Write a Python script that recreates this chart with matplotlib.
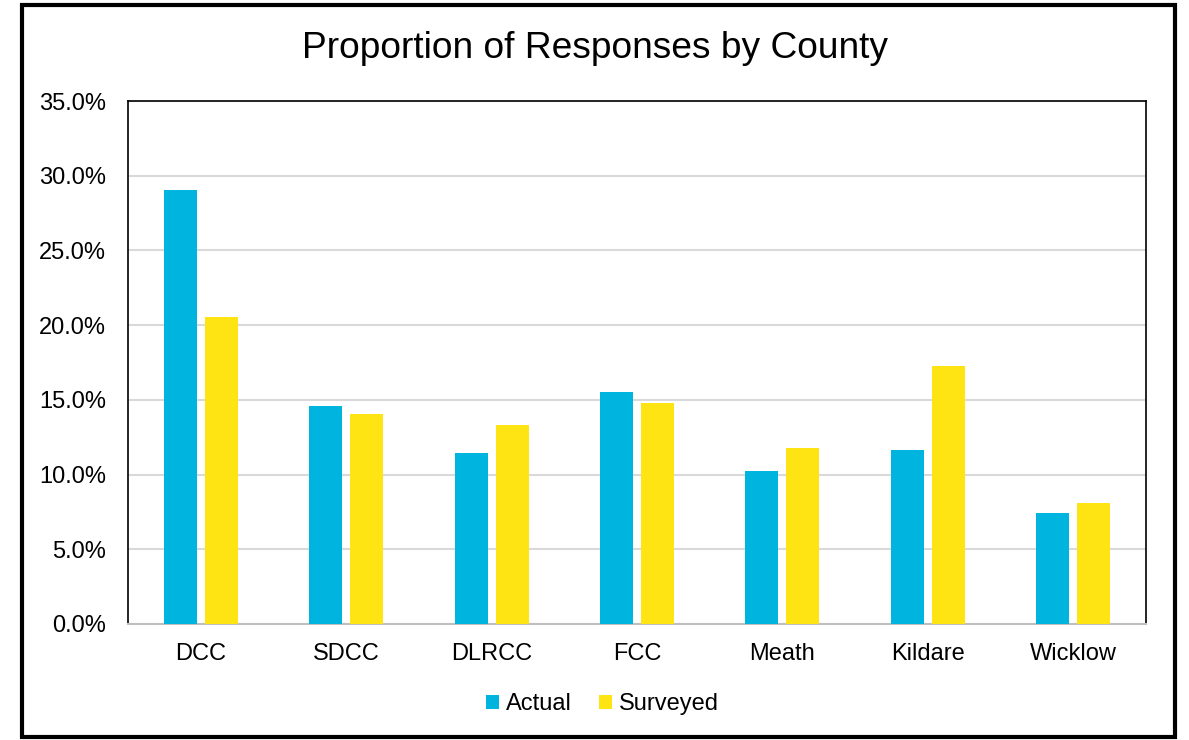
import matplotlib
matplotlib.use("Agg")
import matplotlib.pyplot as plt
import numpy as np
from matplotlib.patches import Rectangle
from matplotlib.ticker import FuncFormatter

plt.rcParams['font.family'] = ['Liberation Sans', 'DejaVu Sans']

counties = ["DCC", "SDCC", "DLRCC", "FCC", "Meath", "Kildare", "Wicklow"]
actual = [29.05, 14.61, 11.44, 15.51, 10.24, 11.65, 7.45]
surveyed = [20.57, 14.07, 13.32, 14.79, 11.78, 17.27, 8.10]

blue = "#00B4E0"
yellow = "#FFE414"

fig = plt.figure(figsize=(11.89, 7.40), dpi=100)
ax = fig.add_axes([128 / 1189, 1 - 624 / 740, 1018 / 1189, 523 / 740])

x = np.arange(len(counties))
w = 0.227
ax.bar(x - 0.141, actual, w, color=blue, label="Actual", zorder=3)
ax.bar(x + 0.141, surveyed, w, color=yellow, label="Surveyed", zorder=3)

ax.set_xlim(-0.5, len(counties) - 0.5)
ax.set_ylim(0, 35)
ax.set_yticks(np.arange(0, 36, 5))
ax.yaxis.set_major_formatter(FuncFormatter(lambda v, p: f"{v:.1f}%"))
ax.set_xticks(x)
ax.set_xticklabels(counties)
ax.tick_params(axis="both", length=0, labelsize=17, colors="black")
ax.tick_params(axis="y", pad=16)
ax.tick_params(axis="x", pad=14)

ax.grid(axis="y", color="#D9D9D9", linewidth=1.5, zorder=0)
for side in ["top", "right", "left"]:
    ax.spines[side].set_color("black")
    ax.spines[side].set_linewidth(1.2)
ax.spines["bottom"].set_color("#BFBFBF")
ax.spines["bottom"].set_linewidth(1.5)

fig.suptitle("Proportion of Responses by County", fontsize=26.7, y=1 - 48 / 740, va="center")

fig.legend(loc="center", bbox_to_anchor=(602.5 / 1189, 1 - 704 / 740), ncol=2, frameon=False,
           fontsize=17, handlelength=0.55, handleheight=0.55, handletextpad=0.3, columnspacing=1.15)

# outer frame around the chart
fig.patches.append(Rectangle((22 / 1189, 3 / 740), 1153 / 1189, 732 / 740, transform=fig.transFigure,
                             fill=False, edgecolor="black", linewidth=3))

fig.savefig("out.png", dpi=100)
